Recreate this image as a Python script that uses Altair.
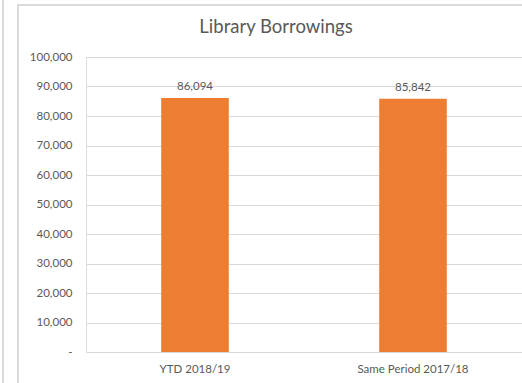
import altair as alt
import pandas as pd

categories = ["YTD 2018/19", "Same Period 2017/18"]
values = [86094, 85842]
y_ticks = [0, 10000, 20000, 30000, 40000, 50000, 60000, 70000, 80000, 90000, 100000]
title_text = "Library Borrowings"

df = pd.DataFrame({"period": categories, "borrowings": values})

W, H = 436, 295
FONT = "Lato"
GRAY = "#595959"
LBL = 11.5

base = alt.Chart(df).encode(
    x=alt.X("period:N", sort=categories, title=None,
            scale=alt.Scale(paddingInner=0.69, paddingOuter=0.345),
            axis=alt.Axis(labelAngle=0, ticks=False, domain=False, grid=False, labelPadding=11,
                          labelFontSize=LBL, labelColor=GRAY, labelFont=FONT)),
    y=alt.Y("borrowings:Q", title=None,
            scale=alt.Scale(domain=[0, 100000], nice=False),
            axis=alt.Axis(values=y_ticks, ticks=False, domain=False, labelPadding=14,
                          labelOverlap=False, grid=True,
                          labelFontSize=LBL, labelColor=GRAY, labelFont=FONT,
                          gridColor="#d9d9d9", gridWidth=1,
                          labelExpr="datum.value == 0 ? '-' : format(datum.value, ',')")),
)

bars = base.mark_bar(color="#ED7D31")

labels = base.mark_text(baseline="bottom", dy=-6, fontSize=LBL, color=GRAY, font=FONT).encode(
    text=alt.Text("borrowings:Q", format=","),
)

frame = alt.Chart(df).mark_rect(fillOpacity=0, stroke="#d9d9d9", strokeWidth=1.5).encode(
    x=alt.value(-68), x2=alt.value(W + 20), y=alt.value(-52), y2=alt.value(H + 60)
)
left_line = alt.Chart(df).mark_rule(color="#d9d9d9", strokeWidth=1.5).encode(
    x=alt.value(-83), y=alt.value(-57), y2=alt.value(H + 31)
)
title = alt.Chart(pd.DataFrame({"t": [title_text]})).mark_text(
    font=FONT, fontSize=18.5, color=GRAY, align="center", baseline="middle"
).encode(text="t:N", x=alt.value(W / 2 - 28), y=alt.value(-30))

chart = alt.layer(frame, left_line, title, bars, labels).properties(
    width=W, height=H,
    padding={"left": 86, "top": 57, "right": 0, "bottom": 31},
    autosize=alt.AutoSizeParams(type="none"),
).configure_view(strokeOpacity=0, strokeWidth=0).configure_axis(
    domain=False, ticks=False
).configure_axisX(grid=False).configure(background="white")

chart.save("out.html", embed_options={"renderer": "svg", "actions": False})
